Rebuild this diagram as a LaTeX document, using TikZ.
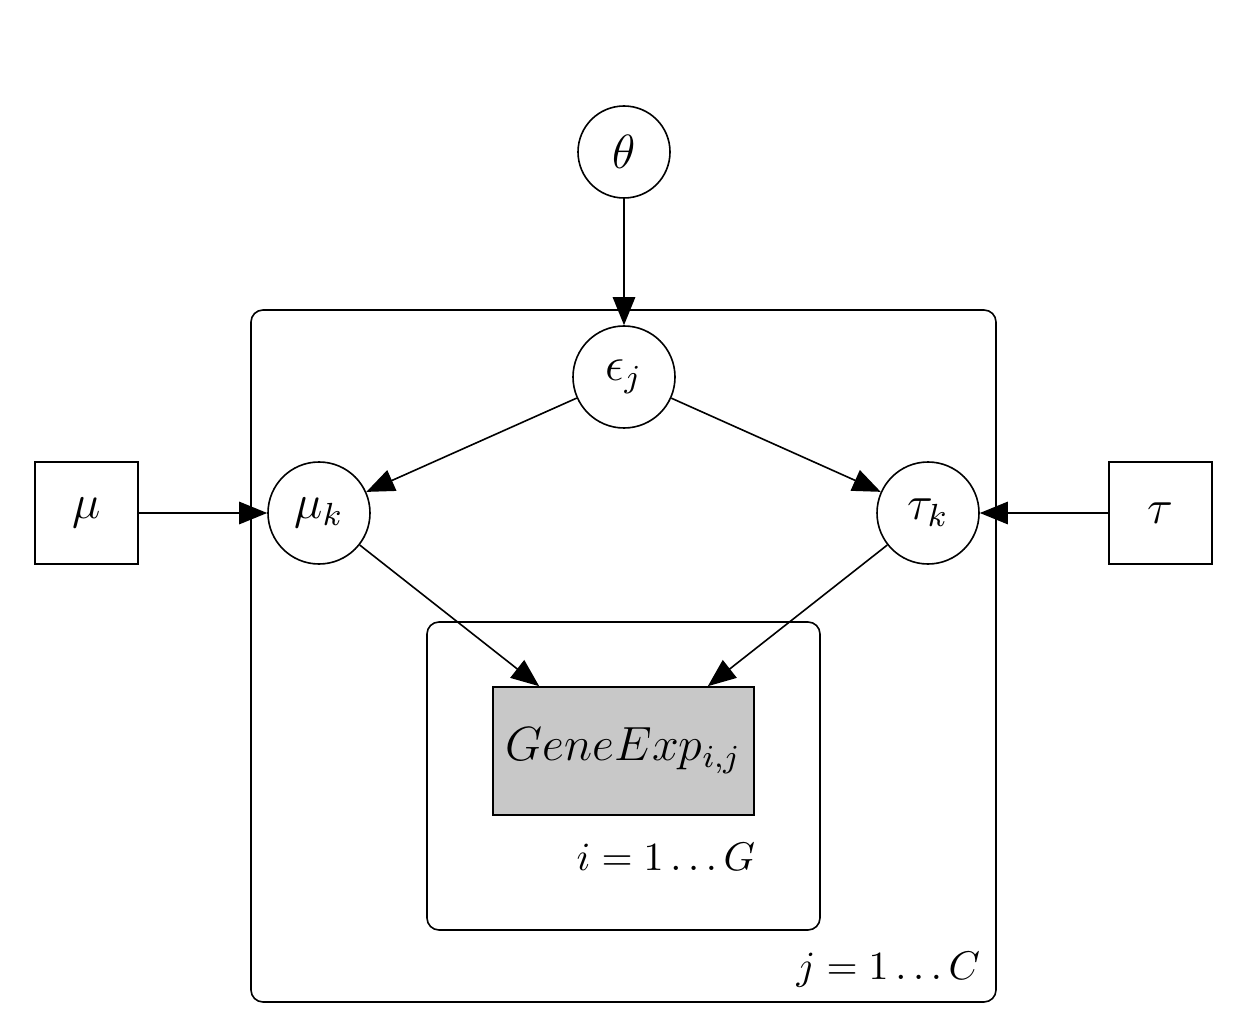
\documentclass[tikz,border=0pt]{standalone}
\usetikzlibrary{arrows.meta}
\definecolor{obsgray}{RGB}{200,200,200}
\begin{document}
\begin{tikzpicture}[x=0.25pt,y=-0.25pt,line width=0.4pt,
  nodefont/.style={font=\fontsize{12}{14}\selectfont},
  labfont/.style={font=\fontsize{10}{12}\selectfont},
  latent/.style={circle,draw,inner sep=0pt,minimum size=25.5pt,nodefont},
  fixedbox/.style={rectangle,draw,inner sep=0pt,minimum width=25.75pt,minimum height=25.5pt,nodefont},
  obsbox/.style={rectangle,draw,fill=obsgray,inner sep=0pt,minimum width=65.25pt,minimum height=32pt,nodefont},
  plate/.style={draw,rounded corners=3pt},
  platelabel/.style={anchor=east,inner sep=0pt,labfont},
  arr/.style={-{Triangle[length=7pt,width=5.6pt]}}]
\useasboundingbox (0,0) rectangle (1240,1026);
% plates
\draw[plate] (251,310) rectangle (996,1002);
\draw[plate] (427,622) rectangle (820,930);
% nodes
\node[latent,minimum size=23pt] (theta) at (624,152) {$\theta$};
\node[latent] (eps) at (624,377) {$\epsilon_j$};
\node[latent] (muk) at (319,513) {$\mu_k$};
\node[latent] (tauk) at (928,513) {$\tau_k$};
\node[fixedbox] (mu) at (86.5,513) {$\mu$};
\node[fixedbox] (tau) at (1160.5,513) {$\tau$};
\node[obsbox] (gene) at (623.5,751) {$GeneExp_{i,j}$};
\node[platelabel] (ilab) at (756,857) {$i = 1\ldots G$};
\node[platelabel] (jlab) at (981,970) {$j = 1\ldots C$};
\coordinate (gL) at ([xshift=11.75pt]gene.north west);
\coordinate (gR) at ([xshift=-11.75pt]gene.north east);
% edges
\draw[arr] (theta) -- (eps);
\draw[arr] (eps) -- (muk);
\draw[arr] (eps) -- (tauk);
\draw[arr] (mu) -- (muk);
\draw[arr] (tau) -- (tauk);
\draw[arr] (muk) -- (gL);
\draw[arr] (tauk) -- (gR);
\end{tikzpicture}
\end{document}
